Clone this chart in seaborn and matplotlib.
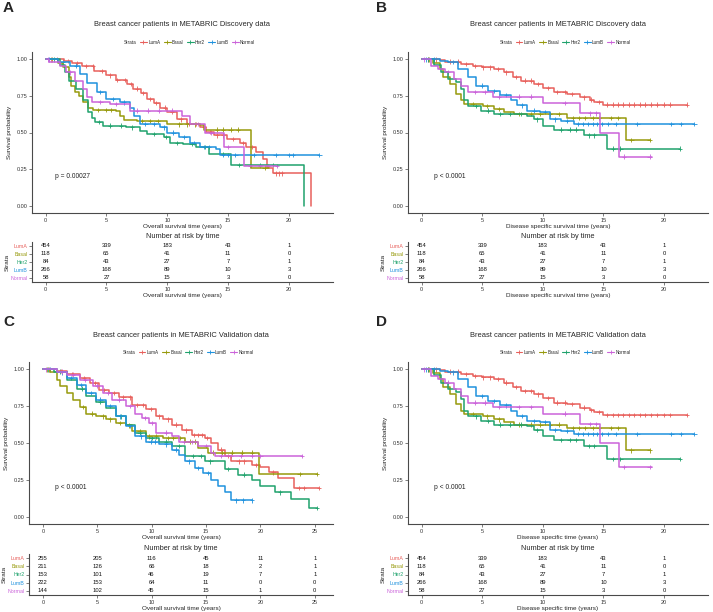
import numpy as np
import pandas as pd
import seaborn as sns
import matplotlib
matplotlib.use("Agg")
import matplotlib.pyplot as plt
from matplotlib.lines import Line2D

sns.set_style("ticks")
plt.rcParams['font.family'] = ['Liberation Sans', 'DejaVu Sans']

STRATA = ["LumA", "Basal", "Her2", "LumB", "Normal"]
COLORS = ["#E8605C", "#979A0C", "#1FA26C", "#1F92DE", "#CB63DA"]

# ---- Panel A: overall survival, Discovery ----
A_LumA_t = [0, 1.5, 2.2, 3.0, 4.0, 5.0, 5.8, 6.7, 7.2, 7.8, 8.3, 8.9, 9.4, 10.0, 10.8, 11.6,
            12.7, 13.2, 13.8, 14.9, 16.0, 16.5, 17.3, 17.9, 18.2, 18.7, 21.8]
A_LumA_s = [1, 0.99, 0.975, 0.955, 0.92, 0.89, 0.86, 0.83, 0.80, 0.77, 0.73, 0.70, 0.67, 0.64, 0.59, 0.56,
            0.535, 0.505, 0.48, 0.455, 0.43, 0.40, 0.365, 0.32, 0.26, 0.22, 0.0]
A_Basal_t = [0, 1.0, 1.45, 1.9, 2.1, 2.4, 2.7, 3.1, 3.5, 3.9, 5.8, 6.1, 6.4, 7.5, 10.0, 12.7, 13.0, 16.9, 18.4]
A_Basal_s = [1, 0.975, 0.945, 0.88, 0.82, 0.78, 0.75, 0.71, 0.67, 0.655, 0.65, 0.61, 0.585, 0.58, 0.555,
             0.55, 0.52, 0.26, 0.26]
A_Her2_t = [0, 1.2, 1.6, 1.9, 2.5, 3.1, 3.5, 3.8, 4.05, 4.7, 6.6, 7.75, 8.3, 9.7, 10.2, 11.3, 12.4, 13.4, 15.2, 21.2]
A_Her2_s = [1, 0.96, 0.91, 0.855, 0.80, 0.72, 0.64, 0.60, 0.57, 0.547, 0.535, 0.51, 0.49, 0.47, 0.43, 0.42,
            0.40, 0.355, 0.28, 0.0]
A_LumB_t = [0, 1.0, 2.0, 2.8, 3.4, 4.2, 5.0, 6.1, 6.9, 7.3, 7.75, 9.4, 10.0, 11.0, 11.9, 12.7, 14.0, 14.3, 22.5]
A_LumB_s = [1, 0.985, 0.957, 0.90, 0.84, 0.775, 0.73, 0.705, 0.67, 0.615, 0.56, 0.535, 0.50, 0.47, 0.43,
            0.40, 0.39, 0.345, 0.345]
A_Normal_t = [0, 0.3, 1.2, 1.7, 2.4, 3.1, 3.4, 3.8, 5.3, 6.9, 11.2, 11.9, 13.1, 14.7, 16.3, 19.0]
A_Normal_s = [1, 0.98, 0.955, 0.91, 0.855, 0.80, 0.745, 0.71, 0.695, 0.65, 0.61, 0.56, 0.50, 0.40, 0.27, 0.27]

A_LumA_c = [0.4, 0.9, 1.8, 2.6, 3.3, 3.9, 4.6, 5.3, 5.9, 6.5, 7.0, 7.5, 8.0, 8.6, 9.1, 9.8, 10.4, 11.1,
            11.8, 12.4, 13.0, 13.5, 14.1, 14.6, 15.4, 16.2, 17.0, 18.9, 19.2, 19.4]
A_Basal_c = [0.5, 4.3, 5.0, 5.4, 7.9, 8.6, 9.2, 11.0, 11.6, 12.3, 14.1, 14.6, 15.2, 15.8, 18.0]
A_Her2_c = [0.7, 4.4, 5.3, 6.2, 7.1, 8.9, 9.9, 10.8, 12.0, 13.1, 14.6, 15.9, 17.6, 18.7]
A_LumB_c = [0.3, 1.4, 2.5, 4.5, 5.5, 6.4, 8.2, 8.9, 9.7, 10.5, 11.4, 12.2, 13.0, 13.4, 14.6, 15.0, 15.6,
            17.1, 18.9, 20.0, 20.3, 22.5]
A_Normal_c = [0.2, 2.0, 4.5, 5.8, 7.5, 8.4, 9.3, 10.4, 12.5, 13.6, 15.0, 16.8, 17.6, 18.3, 19.0]

# ---- Panel B (and D): disease specific survival ----
B_LumA_t = [0, 1.5, 1.9, 3.25, 4.2, 5.0, 6.0, 6.8, 7.5, 8.2, 9.3, 10.0, 10.9, 12.0, 13.1, 13.9, 14.2, 15.0, 21.9]
B_LumA_s = [1, 0.995, 0.985, 0.97, 0.955, 0.945, 0.935, 0.91, 0.88, 0.855, 0.83, 0.805, 0.775, 0.765,
            0.74, 0.725, 0.71, 0.69, 0.69]
B_Basal_t = [0, 0.9, 1.5, 1.75, 2.3, 2.85, 3.25, 3.5, 5.1, 6.0, 6.8, 7.6, 12.0, 16.9, 18.8]
B_Basal_s = [1, 0.975, 0.935, 0.88, 0.83, 0.765, 0.72, 0.695, 0.68, 0.66, 0.64, 0.625, 0.60, 0.45, 0.45]
B_Her2_t = [0, 1.05, 1.6, 2.15, 2.85, 3.25, 3.5, 3.8, 4.9, 6.0, 8.7, 9.3, 10.0, 10.9, 13.4, 15.3, 21.3]
B_Her2_s = [1, 0.96, 0.91, 0.865, 0.845, 0.80, 0.72, 0.68, 0.65, 0.625, 0.615, 0.59, 0.545, 0.52,
            0.48, 0.39, 0.39]
B_LumB_t = [0, 1.5, 2.15, 3.0, 3.8, 4.5, 5.45, 6.5, 7.35, 7.9, 8.7, 9.8, 10.6, 11.5, 12.6, 22.5]
B_LumB_s = [1, 0.99, 0.98, 0.935, 0.88, 0.82, 0.785, 0.755, 0.72, 0.685, 0.65, 0.64, 0.59, 0.58, 0.56, 0.56]
B_Normal_t = [0, 0.8, 1.35, 1.9, 2.7, 3.25, 3.8, 5.9, 10.0, 13.1, 14.7, 16.3, 19.0]
B_Normal_s = [1, 0.957, 0.935, 0.91, 0.865, 0.82, 0.775, 0.745, 0.70, 0.63, 0.50, 0.335, 0.335]

B_LumA_c = [0.5, 1.2, 2.3, 3.0, 3.7, 4.4, 5.1, 5.6, 6.3, 7.0, 7.8, 8.5, 9.0, 9.6, 10.4, 11.2, 11.8, 12.4,
            13.4, 14.0, 14.6, 15.3, 15.8, 16.2, 16.6, 17.1, 17.5, 18.0, 18.4, 18.9, 19.4, 20.0, 20.5, 21.9]
B_Basal_c = [0.6, 4.2, 5.4, 6.4, 8.0, 9.0, 9.8, 10.6, 11.3, 12.5, 13.0, 13.5, 14.1, 14.6, 15.6, 16.2, 17.3, 18.8]
B_Her2_c = [0.5, 4.5, 5.5, 6.5, 7.3, 8.2, 9.5, 11.5, 12.2, 12.7, 13.8, 14.2, 15.8, 16.4, 21.3]
B_LumB_c = [0.4, 1.0, 2.6, 5.0, 6.0, 7.0, 8.3, 9.3, 10.2, 11.0, 12.0, 12.9, 13.3, 13.7, 14.1, 14.5, 14.9,
            15.4, 16.0, 17.8, 20.6, 21.4, 22.5]
B_Normal_c = [0.2, 2.2, 4.4, 5.2, 6.4, 8.0, 9.0, 11.8, 13.9, 14.4, 16.7, 18.8]

# ---- Panel C: overall survival, Validation ----
C_LumA_t = [0, 1.3, 2.2, 3.4, 4.3, 5.2, 6.1, 7.0, 8.2, 9.45, 10.4, 11.0, 11.9, 12.8, 13.7, 14.9, 15.5,
            16.1, 16.7, 17.3, 19.2, 20.0, 20.8, 21.6, 23.1, 25.4]
C_LumA_s = [1, 0.99, 0.97, 0.94, 0.907, 0.86, 0.84, 0.81, 0.76, 0.73, 0.68, 0.66, 0.625, 0.585, 0.555,
            0.535, 0.50, 0.455, 0.41, 0.375, 0.35, 0.34, 0.30, 0.26, 0.195, 0.195]
C_Basal_t = [0, 0.7, 1.3, 1.6, 2.2, 2.8, 3.4, 4.0, 4.9, 5.8, 6.7, 7.6, 8.2, 9.45, 11.0, 13.1, 14.3, 15.2,
             19.85, 25.2]
C_Basal_s = [1, 0.985, 0.93, 0.89, 0.84, 0.79, 0.745, 0.70, 0.68, 0.66, 0.636, 0.62, 0.58, 0.545, 0.535,
             0.51, 0.465, 0.435, 0.29, 0.29]
C_Her2_t = [0, 1.0, 2.2, 3.1, 4.0, 4.9, 5.8, 6.7, 7.6, 8.5, 9.45, 10.7, 11.9, 13.1, 14.9, 16.7, 17.9, 19.2,
            20.0, 21.3, 22.8, 24.5, 25.2]
C_Her2_s = [1, 0.985, 0.93, 0.87, 0.82, 0.78, 0.74, 0.68, 0.625, 0.57, 0.535, 0.51, 0.48, 0.41, 0.375,
            0.325, 0.285, 0.25, 0.205, 0.165, 0.12, 0.06, 0.06]
C_LumB_t = [0, 1.3, 2.2, 3.1, 4.0, 4.9, 5.8, 6.7, 7.6, 8.5, 9.45, 10.7, 11.9, 12.5, 13.1, 14.0, 14.7, 15.5,
            16.1, 16.7, 17.3, 19.2]
C_LumB_s = [1, 0.98, 0.94, 0.895, 0.84, 0.795, 0.75, 0.68, 0.615, 0.545, 0.51, 0.49, 0.455, 0.42, 0.375,
            0.33, 0.295, 0.25, 0.205, 0.165, 0.11, 0.11]
C_Normal_t = [0, 1.3, 2.2, 3.4, 4.6, 5.5, 6.4, 7.6, 8.5, 9.1, 9.75, 10.4, 11.9, 12.5, 14.3, 15.5, 15.8, 23.8]
C_Normal_s = [1, 0.985, 0.965, 0.93, 0.89, 0.84, 0.795, 0.75, 0.70, 0.67, 0.635, 0.57, 0.545, 0.505, 0.48,
              0.435, 0.41, 0.41]

C_LumA_c = [0.6, 1.7, 2.7, 3.8, 4.8, 5.6, 6.5, 7.4, 8.0, 8.7, 9.2, 9.9, 10.7, 11.5, 12.2, 13.2, 13.9, 14.3,
            14.6, 15.1, 16.4, 17.0, 18.0, 18.5, 19.6, 21.2, 23.5, 24.0, 25.4]
C_Basal_c = [0.4, 3.7, 4.5, 5.5, 6.2, 7.1, 7.9, 8.9, 9.8, 10.4, 11.5, 12.0, 12.6, 13.5, 14.0, 15.6, 16.5,
             17.4, 18.3, 19.2, 23.6, 25.2]
C_Her2_c = [0.5, 1.6, 3.6, 5.3, 7.2, 8.9, 10.0, 11.3, 12.5, 13.8, 14.5, 15.4, 17.0, 18.5, 21.8, 25.2]
C_LumB_c = [0.7, 1.8, 2.6, 3.5, 4.4, 5.3, 6.2, 7.1, 8.0, 9.0, 9.9, 10.3, 11.3, 12.2, 13.4, 14.3, 15.2,
            17.8, 18.4, 19.2]
C_Normal_c = [0.3, 1.8, 2.8, 3.9, 5.0, 6.0, 7.0, 8.0, 9.4, 10.0, 11.3, 13.0, 13.7, 15.0, 16.4, 17.3, 18.2,
              19.2, 20.0, 23.8]

# ---- number at risk ----
RISK_BREAKS_AB = [0, 5, 10, 15, 20]
RISK_AB = [[454, 339, 183, 43, 1],
           [118, 65, 41, 11, 0],
           [84, 43, 27, 7, 1],
           [266, 168, 89, 10, 3],
           [58, 27, 15, 3, 0]]
RISK_BREAKS_C = [0, 5, 10, 15, 20, 25]
RISK_C = [[255, 205, 116, 45, 11, 1],
          [211, 126, 66, 18, 2, 1],
          [153, 101, 46, 19, 7, 1],
          [222, 153, 64, 11, 0, 0],
          [144, 102, 45, 15, 1, 0]]

A_curves = [(A_LumA_t, A_LumA_s, A_LumA_c), (A_Basal_t, A_Basal_s, A_Basal_c), (A_Her2_t, A_Her2_s, A_Her2_c),
            (A_LumB_t, A_LumB_s, A_LumB_c), (A_Normal_t, A_Normal_s, A_Normal_c)]
B_curves = [(B_LumA_t, B_LumA_s, B_LumA_c), (B_Basal_t, B_Basal_s, B_Basal_c), (B_Her2_t, B_Her2_s, B_Her2_c),
            (B_LumB_t, B_LumB_s, B_LumB_c), (B_Normal_t, B_Normal_s, B_Normal_c)]
C_curves = [(C_LumA_t, C_LumA_s, C_LumA_c), (C_Basal_t, C_Basal_s, C_Basal_c), (C_Her2_t, C_Her2_s, C_Her2_c),
            (C_LumB_t, C_LumB_s, C_LumB_c), (C_Normal_t, C_Normal_s, C_Normal_c)]

W, H = 713, 612
fig = plt.figure(figsize=(W / 100, H / 100), dpi=100)
AXC = '#4a4a4a'


def box(l, t, r, b):
    return [l / W, 1 - b / H, (r - l) / W, (b - t) / H]


def style_ax(ax):
    for s in ['top', 'right']:
        ax.spines[s].set_visible(False)
    for s in ['left', 'bottom']:
        ax.spines[s].set_color(AXC)
        ax.spines[s].set_linewidth(0.8)
    ax.tick_params(length=2, width=0.5, color=AXC, labelsize=4.0, labelcolor='#333333', pad=1.5)


def panel(l, t, r, tab_top, tab_bot, main_bot, curves, risk, breaks, xmax, title, xlabel,
          pval, pval_x, letter, letter_x, letter_y):
    ax = fig.add_axes(box(l, t, r, main_bot))
    rows, crows = [], []
    for name, (tt, ss, cc) in zip(STRATA, curves):
        rows.append(pd.DataFrame({'time': tt, 'surv': ss, 'strata': name}))
        idx = np.searchsorted(tt, cc, side='right') - 1
        crows.append(pd.DataFrame({'time': cc, 'surv': np.asarray(ss)[idx], 'strata': name}))
    df = pd.concat(rows)
    cdf = pd.concat(crows)
    sns.lineplot(data=df, x='time', y='surv', hue='strata', hue_order=STRATA, palette=COLORS,
                 drawstyle='steps-post', estimator=None, sort=False, legend=False, ax=ax, lw=1.1)
    sns.scatterplot(data=cdf, x='time', y='surv', hue='strata', hue_order=STRATA, palette=COLORS,
                    marker='+', s=10, linewidth=0.6, legend=False, ax=ax)
    xl = (-0.05 * xmax, 1.05 * xmax)
    ax.set_xlim(*xl)
    ax.set_ylim(-0.05, 1.05)
    ax.set_xticks(breaks)
    ax.set_yticks([0, 0.25, 0.5, 0.75, 1.0])
    ax.set_yticklabels(['0.00', '0.25', '0.50', '0.75', '1.00'])
    style_ax(ax)
    ax.set_xlabel(xlabel, fontsize=4.6, labelpad=1)
    ax.set_ylabel('Survival probability', fontsize=4.6, labelpad=3)
    ax.text(pval_x, 0.2, pval, fontsize=4.8, ha='left', va='center', color='#222222')

    cx = (l + r) / 2
    fig.text(cx / W, 1 - (t - 27) / H, title, fontsize=5.4, ha='center', va='center')
    handles = [Line2D([], [], color='none', label='Strata')]
    handles += [Line2D([], [], color=c, lw=0.8, marker='+', ms=3, mew=0.6, label=n)
                for n, c in zip(STRATA, COLORS)]
    fig.legend(handles=handles, loc='center', bbox_to_anchor=((cx + 3) / W, 1 - (t - 10) / H),
               ncol=6, frameon=False, fontsize=3.3, handlelength=1.5, handletextpad=0.3,
               columnspacing=0.7, borderpad=0)
    fig.text(letter_x / W, 1 - letter_y / H, letter, fontsize=11, fontweight='bold',
             ha='left', va='center')

    # risk table
    at = fig.add_axes(box(l, tab_top, r, tab_bot))
    at.set_xlim(*xl)
    at.set_ylim(5.5, 0.5)
    for i, vals in enumerate(risk):
        for x, v in zip(breaks, vals):
            at.text(x, i + 1, str(v), fontsize=4.2, ha='center', va='center', color='#111111')
    at.set_xticks(breaks)
    at.set_yticks([1, 2, 3, 4, 5])
    at.set_yticklabels(STRATA)
    style_ax(at)
    at.tick_params(axis='y', labelsize=3.8, pad=1)
    for lab, c in zip(at.get_yticklabels(), COLORS):
        lab.set_color(c)
    at.set_xlabel(xlabel, fontsize=4.6, labelpad=1)
    at.set_ylabel('Strata', fontsize=4.6, labelpad=0.5)
    fig.text(cx / W, 1 - (tab_top - 6) / H, 'Number at risk by time', fontsize=5.3,
             ha='center', va='center')


panel(32, 52, 333, 242, 282, 213, A_curves, RISK_AB, RISK_BREAKS_AB, 22.5,
      'Breast cancer patients in METABRIC Discovery data', 'Overall survival time (years)',
      'p = 0.00027', 0.77, 'A', 3, 8)
panel(408, 52, 708, 242, 282, 213, B_curves, RISK_AB, RISK_BREAKS_AB, 22.5,
      'Breast cancer patients in METABRIC Discovery data', 'Disease specific survival time (years)',
      'p < 0.0001', 0.98, 'B', 376, 8)
panel(29, 362, 333, 554, 595, 524, C_curves, RISK_C, RISK_BREAKS_C, 25.4,
      'Breast cancer patients in METABRIC Validation data', 'Overall survival time (years)',
      'p < 0.0001', 1.12, 'C', 3, 322)
panel(408, 362, 708, 554, 595, 524, B_curves, RISK_AB, RISK_BREAKS_AB, 22.5,
      'Breast cancer patients in METABRIC Validation data', 'Disease specific time (years)',
      'p < 0.0001', 0.98, 'D', 376, 322)

fig.savefig('out.png', dpi=100)
